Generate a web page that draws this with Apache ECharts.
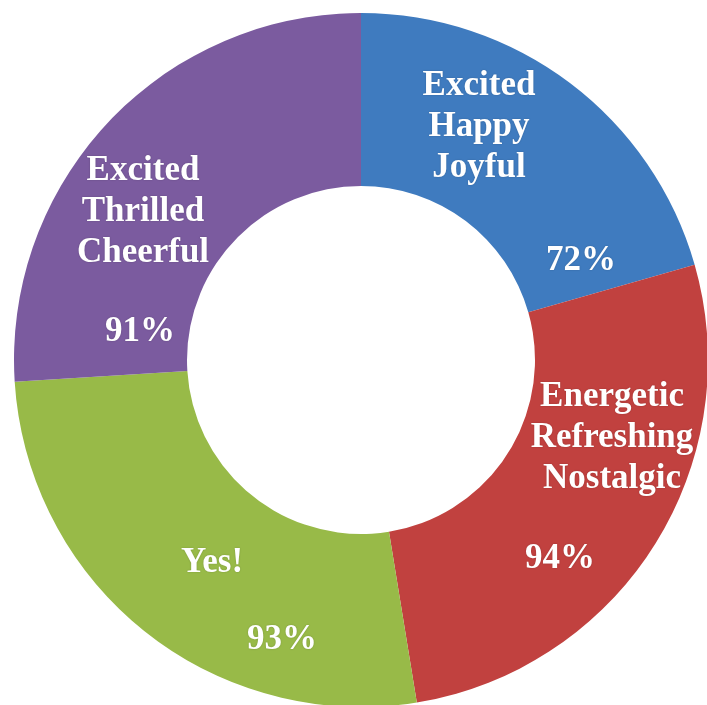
<!DOCTYPE html>
<html>
<head>
<meta charset="utf-8">
<script src="https://cdn.jsdelivr.net/npm/echarts@6/dist/echarts.min.js"></script>
<style>
  html, body { margin: 0; padding: 0; background: #fff; }
  #chart { width: 707px; height: 705px; }
</style>
</head>
<body>
<div id="chart"></div>
<script>
// ---- data ----
const categories = [
  'Excited\nHappy\nJoyful',
  'Energetic\nRefreshing\nNostalgic',
  'Yes!',
  'Excited\nThrilled\nCheerful'
];
const values = [72, 94, 93, 91];
const colors = ['#3F7BBF', '#C1413F', '#98BA48', '#7B5B9F'];

// ---- label placement (layout only) ----
const namePos = [[479, 127], [612, 438], [212, 563], [143, 212]];
const pctPos  = [[581, 261], [560, 559], [282, 640], [140, 332]];

const CENTER = [361, 360];
const RADIUS = [174, 347];

const textStyle = {
  color: '#fff',
  fontFamily: '"Liberation Serif", "Times New Roman", serif',
  fontWeight: 'bold',
  fontSize: 35,
  lineHeight: 41,
  align: 'center',
  verticalAlign: 'middle',
  textShadowColor: 'rgba(0,0,0,0.2)',
  textShadowBlur: 2
};

const seriesData = categories.map((c, i) => ({
  name: c, value: values[i], itemStyle: { color: colors[i] }
}));

const chart = echarts.init(document.getElementById('chart'));
chart.setOption({
  animation: false,
  backgroundColor: '#fff',
  series: [
    {
      type: 'pie',
      center: CENTER,
      radius: RADIUS,
      startAngle: 90,
      clockwise: true,
      silent: true,
      itemStyle: { borderWidth: 0 },
      label: Object.assign({ show: true, position: 'inside', formatter: '{b}' }, textStyle),
      labelLine: { show: false },
      labelLayout: (p) => ({ x: namePos[p.dataIndex][0], y: namePos[p.dataIndex][1] }),
      data: seriesData
    },
    {
      type: 'pie',
      center: CENTER,
      radius: RADIUS,
      startAngle: 90,
      clockwise: true,
      silent: true,
      itemStyle: { color: 'rgba(0,0,0,0)', borderWidth: 0 },
      label: Object.assign({ show: true, position: 'inside', formatter: (p) => p.value + '%' }, textStyle),
      labelLine: { show: false },
      labelLayout: (p) => ({ x: pctPos[p.dataIndex][0], y: pctPos[p.dataIndex][1] }),
      data: categories.map((c, i) => ({ name: c, value: values[i], itemStyle: { color: 'rgba(0,0,0,0)' } }))
    }
  ]
});
</script>
</body>
</html>
